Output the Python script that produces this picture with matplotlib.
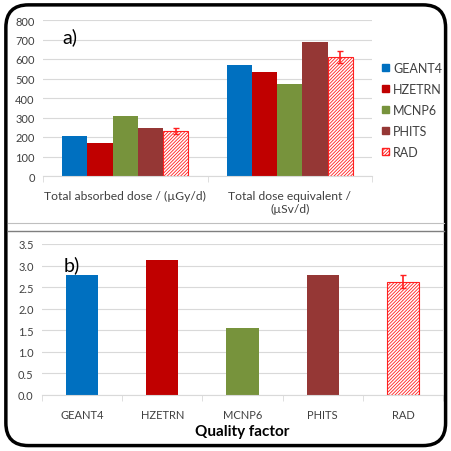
import numpy as np
import matplotlib.pyplot as plt
from matplotlib.patches import FancyBboxPatch, Patch
from matplotlib.lines import Line2D

plt.rcParams['font.family'] = ['Lato', 'DejaVu Sans']
plt.rcParams['hatch.color'] = '#FF2020'
plt.rcParams['hatch.linewidth'] = 0.6

# data
codes = ["GEANT4", "HZETRN", "MCNP6", "PHITS", "RAD"]
dose_groups = ["Total absorbed dose / (µGy/d)", "Total dose equivalent /\n(µSv/d)"]
absorbed = [205, 167, 306, 244, 231]
equivalent = [571, 533, 470, 686, 610]
rad_err_a = [14, 33]
quality = [2.77, 3.14, 1.55, 2.77, 2.63]
rad_err_q = 0.14

colors = ["#0070C0", "#C00000", "#77933C", "#953735", "white"]
grid_c = "#D9D9D9"
txt_c = "#404040"
hatch = "//////////"

fig = plt.figure(figsize=(4.51, 4.52), dpi=100)

# rounded outer frame + separator lines
frame = FancyBboxPatch((0.013, 0.012), 0.975, 0.975, boxstyle="round,pad=0,rounding_size=0.05",
                       transform=fig.transFigure, fill=False, ec="black", lw=2.5)
fig.patches.append(frame)
fig.add_artist(Line2D([0.017, 0.984], [1 - 224 / 452] * 2, color="#BFBFBF", lw=0.8, transform=fig.transFigure))
fig.add_artist(Line2D([0.017, 0.984], [1 - 232 / 452] * 2, color="#7F7F7F", lw=1.0, transform=fig.transFigure))


def style_axis(ax):
    for s in ["top", "right", "left"]:
        ax.spines[s].set_visible(False)
    ax.spines["bottom"].set_color(grid_c)
    ax.yaxis.grid(True, color=grid_c, lw=0.8)
    ax.set_axisbelow(True)
    ax.tick_params(axis="y", length=0, labelsize=8, labelcolor=txt_c, pad=6)
    ax.tick_params(axis="x", which="major", length=0, labelsize=8, labelcolor=txt_c, pad=10)
    ax.tick_params(axis="x", which="minor", length=4, color=grid_c)


# panel a)
ax1 = fig.add_axes([43 / 451, 1 - 177 / 452, (372 - 43) / 451, (177 - 21) / 452])
style_axis(ax1)
x = np.arange(len(dose_groups))
w = 0.766 / len(codes)
for i, c in enumerate(codes):
    vals = [absorbed[i], equivalent[i]]
    pos = x + (i - 2) * w
    if c == "RAD":
        ax1.bar(pos, vals, w, color="white", edgecolor="#FF2020", hatch=hatch, lw=0.8, label=c)
        ax1.errorbar(pos, vals, yerr=rad_err_a, fmt="none", ecolor="#FF2020", capsize=2, lw=1.2)
    else:
        ax1.bar(pos, vals, w, color=colors[i], label=c)
ax1.set_xlim(-0.5, 1.5)
ax1.set_ylim(0, 800)
ax1.set_yticks(range(0, 801, 100))
ax1.set_xticks(x)
ax1.set_xticklabels(dose_groups, fontsize=8.7, linespacing=1.2)
ax1.set_xticks([-0.5, 0.5, 1.5], minor=True)
ax1.text(0.06, 0.86, "a)", transform=ax1.transAxes, fontsize=14, color="black")

handles = [Patch(facecolor=colors[i], edgecolor="#FF2020" if codes[i] == "RAD" else colors[i],
                 hatch=hatch if codes[i] == "RAD" else None, label=codes[i]) for i in range(len(codes))]
fig.legend(handles=handles, loc="center left", bbox_to_anchor=(382 / 451, 1 - 111 / 452),
           frameon=False, fontsize=9, handlelength=0.55, handleheight=0.55, handletextpad=0.35,
           labelspacing=0.72, labelcolor=txt_c, borderaxespad=0, borderpad=0)

# panel b)
ax2 = fig.add_axes([42 / 451, 1 - 396 / 452, (443 - 42) / 451, (396 - 245) / 452])
style_axis(ax2)
xq = np.arange(len(codes))
for i, c in enumerate(codes):
    if c == "RAD":
        ax2.bar(xq[i], quality[i], 0.4, color="white", edgecolor="#FF2020", hatch=hatch, lw=0.8)
        ax2.errorbar(xq[i], quality[i], yerr=rad_err_q, fmt="none", ecolor="#FF2020", capsize=2, lw=1.2)
    else:
        ax2.bar(xq[i], quality[i], 0.4, color=colors[i])
ax2.set_xlim(-0.5, len(codes) - 0.5)
ax2.set_ylim(0, 3.5)
ax2.set_yticks(np.arange(0, 3.51, 0.5))
ax2.yaxis.set_major_formatter(plt.FormatStrFormatter("%.1f"))
ax2.set_xticks(xq)
ax2.set_xticklabels(codes)
ax2.set_xticks(np.arange(-0.5, len(codes)), minor=True)
ax2.set_xlabel("Quality factor", fontsize=11, fontweight="bold", color="black", labelpad=3)
ax2.text(0.055, 0.83, "b)", transform=ax2.transAxes, fontsize=14, color="black")

fig.savefig("out.png", dpi=100)
